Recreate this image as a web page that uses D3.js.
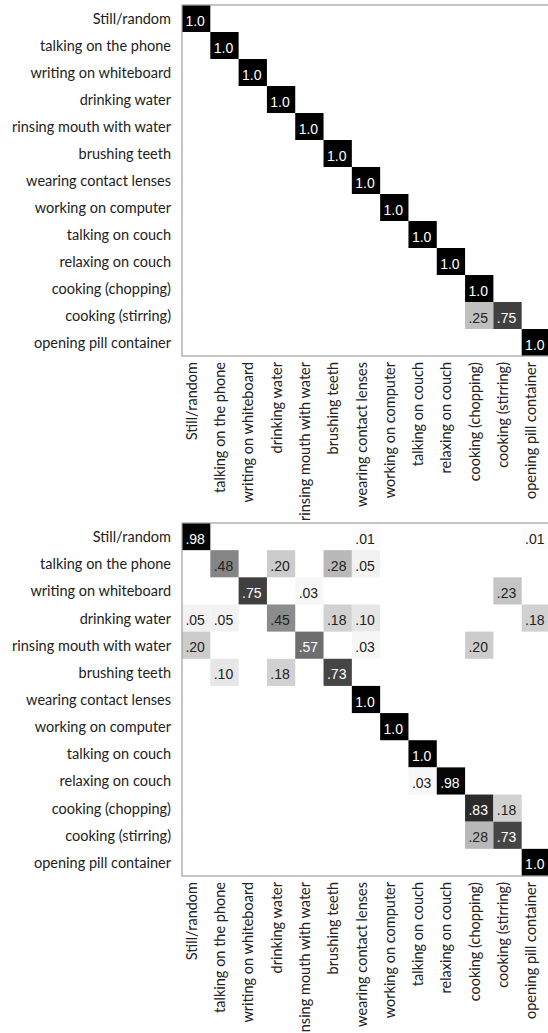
<!DOCTYPE html>
<html>
<head>
<meta charset="utf-8">
<script src="https://cdn.jsdelivr.net/npm/d3@7"></script>
<style>
  html, body { margin: 0; padding: 0; background: #fff; }
  svg { display: block; }
</style>
</head>
<body>
<div id="chart"></div>
<script>
// Activity classes (rows = true activity, columns = predicted activity)
const activities = [
  "Still/random",
  "talking on the phone",
  "writing on whiteboard",
  "drinking water",
  "rinsing mouth with water",
  "brushing teeth",
  "wearing contact lenses",
  "working on computer",
  "talking on couch",
  "relaxing on couch",
  "cooking (chopping)",
  "cooking (stirring)",
  "opening pill container"
];

// Non-zero cells of the first confusion matrix: [row, column, value]
const matrixA = [
  [0, 0, 1.0], [1, 1, 1.0], [2, 2, 1.0], [3, 3, 1.0], [4, 4, 1.0],
  [5, 5, 1.0], [6, 6, 1.0], [7, 7, 1.0], [8, 8, 1.0], [9, 9, 1.0],
  [10, 10, 1.0],
  [11, 10, 0.25], [11, 11, 0.75],
  [12, 12, 1.0]
];

// Non-zero cells of the second confusion matrix: [row, column, value]
const matrixB = [
  [0, 0, 0.98], [0, 6, 0.01], [0, 12, 0.01],
  [1, 1, 0.48], [1, 3, 0.20], [1, 5, 0.28], [1, 6, 0.05],
  [2, 2, 0.75], [2, 4, 0.03], [2, 11, 0.23],
  [3, 0, 0.05], [3, 1, 0.05], [3, 3, 0.45], [3, 5, 0.18], [3, 6, 0.10], [3, 12, 0.18],
  [4, 0, 0.20], [4, 4, 0.57], [4, 6, 0.03], [4, 10, 0.20],
  [5, 1, 0.10], [5, 3, 0.18], [5, 5, 0.73],
  [6, 6, 1.0],
  [7, 7, 1.0],
  [8, 8, 1.0],
  [9, 8, 0.03], [9, 9, 0.98],
  [10, 10, 0.83], [10, 11, 0.18],
  [11, 10, 0.28], [11, 11, 0.73],
  [12, 12, 1.0]
];

const W = 548, H = 1033;
const svg = d3.select("#chart").append("svg")
  .attr("width", W).attr("height", H);

const labelFont = "Lato, 'Open Sans', sans-serif";
const cellFont = "'Liberation Sans', Arial, sans-serif";

const x = d3.scaleBand().domain(d3.range(activities.length)).range([182, 550]).padding(0);
const shade = d3.scaleLinear().domain([0, 1]).range(["#ffffff", "#000000"]);
const fmt = v => v >= 1 ? "1.0" : d3.format(".2f")(v).replace(/^0/, "");

function drawMatrix(cells, top, bottom) {
  const y = d3.scaleBand().domain(d3.range(activities.length)).range([top, bottom]).padding(0);
  const g = svg.append("g");

  // cells
  g.selectAll("rect.cell").data(cells).join("rect")
    .attr("class", "cell")
    .attr("x", d => x(d[1]))
    .attr("y", d => y(d[0]))
    .attr("width", x.bandwidth())
    .attr("height", y.bandwidth())
    .attr("fill", d => shade(d[2]));

  // frame
  g.append("rect")
    .attr("x", x.range()[0])
    .attr("y", top)
    .attr("width", x.range()[1] - x.range()[0])
    .attr("height", bottom - top)
    .attr("fill", "none")
    .attr("stroke", "#a0a0a0")
    .attr("stroke-width", 1.2);

  // cell values
  g.selectAll("text.val").data(cells).join("text")
    .attr("class", "val")
    .attr("x", d => x(d[1]) + x.bandwidth() / 2 - 1)
    .attr("y", d => y(d[0]) + y.bandwidth() / 2 + 2)
    .attr("text-anchor", "middle")
    .attr("dominant-baseline", "central")
    .attr("font-family", cellFont)
    .attr("font-size", 14)
    .attr("fill", d => d[2] >= 0.5 ? "#ffffff" : "#222222")
    .text(d => fmt(d[2]));

  // row labels
  g.selectAll("text.row").data(activities).join("text")
    .attr("class", "row")
    .attr("x", 171)
    .attr("y", (d, i) => y(i) + y.bandwidth() / 2)
    .attr("text-anchor", "end")
    .attr("dominant-baseline", "central")
    .attr("font-family", labelFont)
    .attr("font-size", 14.5)
    .attr("fill", "#222")
    .text(d => d);

  // column labels, rotated
  g.selectAll("text.col").data(activities).join("text")
    .attr("class", "col")
    .attr("transform", (d, i) =>
      `translate(${x(i) + x.bandwidth() / 2 - 5},${bottom + 6}) rotate(-90)`)
    .attr("text-anchor", "end")
    .attr("dominant-baseline", "central")
    .attr("font-family", labelFont)
    .attr("font-size", 14.5)
    .attr("fill", "#222")
    .text(d => d);
}

drawMatrix(matrixA, 5, 356);
drawMatrix(matrixB, 523, 876);
</script>
</body>
</html>
